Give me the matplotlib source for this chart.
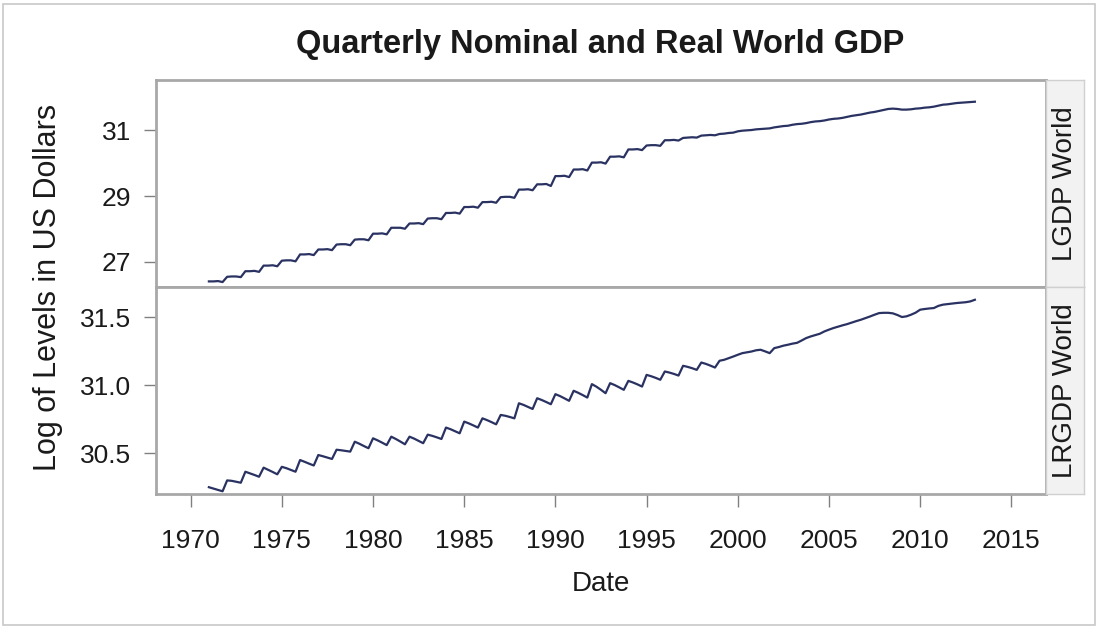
import matplotlib
matplotlib.use("Agg")
import matplotlib.pyplot as plt
import numpy as np

plt.rcParams["font.family"] = ["Liberation Sans", "DejaVu Sans"]

# quarterly data, 1971Q1 .. 2013Q1 (one row per year, four quarters)
lgdp_world = [
    26.41, 26.41, 26.42, 26.39,   # 1971
    26.55, 26.56, 26.56, 26.54,
    26.72, 26.72, 26.73, 26.70,
    26.89, 26.89, 26.90, 26.87,
    27.04, 27.05, 27.05, 27.02,   # 1975
    27.23, 27.23, 27.24, 27.21,
    27.38, 27.38, 27.39, 27.36,
    27.53, 27.54, 27.54, 27.51,
    27.68, 27.69, 27.69, 27.66,
    27.86, 27.86, 27.87, 27.84,   # 1980
    28.04, 28.04, 28.04, 28.01,
    28.17, 28.17, 28.18, 28.15,
    28.32, 28.33, 28.33, 28.30,
    28.49, 28.49, 28.50, 28.47,
    28.67, 28.67, 28.68, 28.65,   # 1985
    28.82, 28.82, 28.83, 28.80,
    28.97, 28.98, 28.98, 28.95,
    29.20, 29.20, 29.21, 29.18,
    29.36, 29.36, 29.37, 29.31,
    29.61, 29.61, 29.62, 29.58,   # 1990
    29.81, 29.81, 29.82, 29.78,
    30.02, 30.02, 30.03, 29.99,
    30.20, 30.20, 30.21, 30.18,
    30.42, 30.42, 30.43, 30.40,
    30.54, 30.55, 30.55, 30.53,   # 1995
    30.70, 30.70, 30.71, 30.69,
    30.77, 30.78, 30.79, 30.78,
    30.84, 30.85, 30.86, 30.85,
    30.89, 30.90, 30.92, 30.93,
    30.97, 30.99, 31.00, 31.01,   # 2000
    31.03, 31.04, 31.05, 31.06,
    31.09, 31.11, 31.13, 31.14,
    31.17, 31.19, 31.20, 31.22,
    31.25, 31.27, 31.28, 31.30,
    31.33, 31.35, 31.36, 31.38,   # 2005
    31.41, 31.44, 31.46, 31.48,
    31.51, 31.54, 31.56, 31.59,
    31.62, 31.65, 31.66, 31.65,
    31.63, 31.63, 31.64, 31.66,
    31.67, 31.69, 31.70, 31.72,   # 2010
    31.75, 31.78, 31.79, 31.81,
    31.83, 31.84, 31.85, 31.86,
    31.87,                        # 2013Q1
]

lrgdp_world = [
    30.250, 30.240, 30.230, 30.220,   # 1971
    30.300, 30.297, 30.290, 30.283,
    30.364, 30.352, 30.340, 30.327,
    30.394, 30.378, 30.362, 30.345,
    30.400, 30.390, 30.377, 30.364,   # 1975
    30.450, 30.437, 30.423, 30.410,
    30.487, 30.478, 30.468, 30.458,
    30.526, 30.522, 30.517, 30.512,
    30.585, 30.570, 30.553, 30.537,
    30.610, 30.595, 30.578, 30.560,   # 1980
    30.622, 30.605, 30.586, 30.566,
    30.622, 30.608, 30.591, 30.574,
    30.637, 30.628, 30.617, 30.605,
    30.689, 30.677, 30.662, 30.647,
    30.733, 30.720, 30.705, 30.689,   # 1985
    30.757, 30.744, 30.729, 30.713,
    30.782, 30.776, 30.767, 30.757,
    30.868, 30.856, 30.841, 30.826,
    30.905, 30.892, 30.877, 30.861,
    30.935, 30.921, 30.904, 30.886,   # 1990
    30.960, 30.945, 30.928, 30.910,
    31.009, 30.990, 30.967, 30.942,
    31.016, 31.002, 30.985, 30.967,
    31.033, 31.021, 31.007, 30.991,
    31.077, 31.067, 31.055, 31.041,   # 1995
    31.102, 31.094, 31.084, 31.072,
    31.144, 31.136, 31.126, 31.114,
    31.168, 31.158, 31.145, 31.131,
    31.181, 31.188, 31.200, 31.212,
    31.225, 31.237, 31.243, 31.249,   # 2000
    31.258, 31.262, 31.250, 31.237,
    31.274, 31.282, 31.292, 31.299,
    31.307, 31.313, 31.330, 31.348,
    31.360, 31.370, 31.380, 31.397,
    31.410, 31.422, 31.432, 31.442,   # 2005
    31.451, 31.462, 31.473, 31.483,
    31.495, 31.507, 31.520, 31.532,
    31.534, 31.534, 31.530, 31.518,
    31.503, 31.508, 31.520, 31.535,
    31.557, 31.562, 31.566, 31.569,   # 2010
    31.585, 31.594, 31.598, 31.602,
    31.606, 31.609, 31.612, 31.618,
    31.630,                           # 2013Q1
]

start_year = 1971
x_ticks = [1970, 1975, 1980, 1985, 1990, 1995, 2000, 2005, 2010, 2015]
top_ticks = [27, 29, 31]
bottom_ticks = [30.5, 31.0, 31.5]
panel_names = ["LGDP World", "LRGDP World"]

dates = start_year + np.arange(len(lgdp_world)) / 4.0

W, H = 1099, 628
fig = plt.figure(figsize=(W / 100, H / 100), dpi=100)

# outer frame
fig.patches.append(plt.Rectangle((3 / W, 3 / H), 1 - 7 / W, 1 - 7 / H, transform=fig.transFigure,
                                 fill=False, edgecolor="#c8c8c8", linewidth=1.2))

left, right = 156 / W, 1046 / W
strip_r = 1084 / W
top, mid, bot = 1 - 80 / H, 1 - 287 / H, 1 - 494 / H

ax_top = fig.add_axes([left, mid, right - left, top - mid])
ax_bot = fig.add_axes([left, bot, right - left, mid - bot], sharex=ax_top)

line_col = "#2a3262"
frame_col = "#a8a8a8"
tick_col = "#808080"
text_col = "#1a1a1a"

ax_top.plot(dates, lgdp_world, color=line_col, lw=1.6)
ax_bot.plot(dates, lrgdp_world, color=line_col, lw=1.6)

ax_top.set_ylim(26.24, 32.53)
ax_bot.set_ylim(30.2, 31.724)
ax_top.set_xlim(1968.1, 2016.9)

ax_top.set_yticks(top_ticks)
ax_top.set_yticklabels([str(v) for v in top_ticks])
ax_bot.set_yticks(bottom_ticks)
ax_bot.set_yticklabels(["%.1f" % v for v in bottom_ticks])
ax_bot.set_xticks(x_ticks)

for ax in (ax_top, ax_bot):
    for s in ax.spines.values():
        s.set_color(frame_col)
        s.set_linewidth(2)
    ax.tick_params(axis="y", direction="out", length=9, width=1, color=tick_col,
                   labelsize=19, pad=9, labelcolor=text_col)
ax_top.tick_params(axis="x", bottom=False, labelbottom=False)
ax_bot.tick_params(axis="x", direction="out", length=9, width=1, color=tick_col,
                   labelsize=19, pad=16, labelcolor=text_col)

ax_bot.set_xlabel("Date", fontsize=20, labelpad=13, color=text_col)
fig.text(48 / W, 1 - 287 / H, "Log of Levels in US Dollars", rotation=90,
         ha="center", va="center", fontsize=22, color=text_col)
fig.suptitle("Quarterly Nominal and Real World GDP", x=600 / W, y=1 - 45 / H,
             va="center", fontsize=23.5, fontweight="bold", color=text_col)

# row strips on the right
for (y0, y1), name in zip([(mid, top), (bot, mid)], panel_names):
    sax = fig.add_axes([right, y0, strip_r - right, y1 - y0])
    sax.set_facecolor("#f2f2f2")
    sax.set_xticks([])
    sax.set_yticks([])
    for s in sax.spines.values():
        s.set_color("#d0d0d0")
        s.set_linewidth(1)
    sax.text(0.5, 0.5, name, rotation=90, ha="center", va="center",
             fontsize=20, transform=sax.transAxes, color=text_col)

fig.savefig("out.png", dpi=100)
